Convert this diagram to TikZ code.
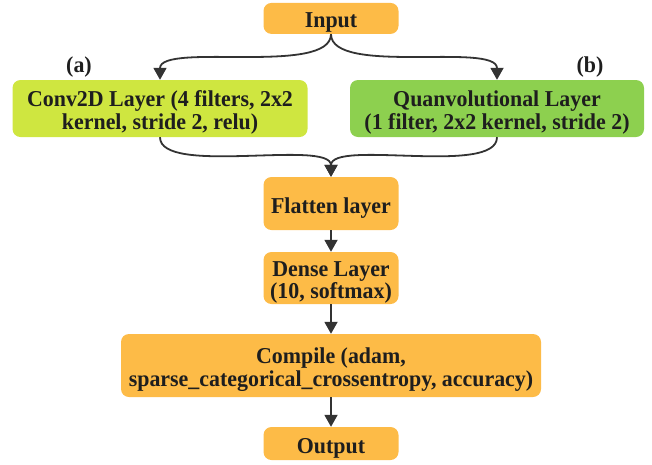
\documentclass[tikz,border=0pt]{standalone}
\usepackage{fontspec}
\setmainfont[FakeStretch=0.965]{Liberation Serif}
\usetikzlibrary{arrows.meta}
\definecolor{boxorange}{HTML}{FDBB47}
\definecolor{boxlime}{HTML}{CFE640}
\definecolor{boxgreen}{HTML}{8DD04F}
\definecolor{txt}{HTML}{1E1E1E}
\definecolor{arr}{HTML}{333333}
\newcommand{\bxt}[1]{\raisebox{-5pt}[\height][\depth]{\begin{tabular}{@{}c@{}}#1\end{tabular}}}
\tikzset{
  blk/.style={rounded corners=8pt, inner sep=0pt, text=txt,
    font=\fontsize{22.7}{22.5}\selectfont\bfseries},
  lbl/.style={text=txt, font=\fontsize{22.7}{22.5}\selectfont\bfseries},
  conn/.style={draw=arr, line width=1.8pt, -{Triangle[length=12pt,width=13pt]}}
}
\begin{document}
\begin{tikzpicture}[x=1pt,y=-1pt]
\useasboundingbox (0,0) rectangle (652,464);
\node[blk, fill=boxorange, minimum width=135pt, minimum height=31pt] (in) at (331,18.4) {\bxt{Input}};
\node[blk, fill=boxlime, minimum width=295pt, minimum height=57pt] (conv) at (160,108.5) {\bxt{Conv2D Layer (4 filters, 2x2\\kernel, stride 2, relu)}};
\node[blk, fill=boxgreen, minimum width=294pt, minimum height=57pt] (quan) at (497,108.5) {\bxt{Quanvolutional Layer\\(1 filter, 2x2 kernel, stride 2)}};
\node[blk, fill=boxorange, minimum width=135pt, minimum height=53pt] (flat) at (331,203.5) {\bxt{Flatten layer}};
\node[blk, fill=boxorange, minimum width=135pt, minimum height=52pt] (dense) at (331,278) {\bxt{Dense Layer\\(10, softmax)}};
\node[blk, fill=boxorange, minimum width=420pt, minimum height=63pt] (comp) at (331,365.5) {\bxt{Compile (adam,\\sparse\_categorical\_crossentropy, accuracy)}};
\node[blk, fill=boxorange, minimum width=135pt, minimum height=33pt] (out) at (331,443.5) {\bxt{Output}};
\node[lbl] (la) at (79,67) {(a)};
\node[lbl] (lb) at (590,67) {(b)};
\draw[conn] (in.south) .. controls +(0,42) and +(0,-38) .. (conv.north);
\draw[conn] (in.south) .. controls +(0,42) and +(0,-38) .. (quan.north);
\draw[conn] (conv.south) .. controls +(0,39) and +(0,-38) .. (flat.north);
\draw[conn] (quan.south) .. controls +(0,39) and +(0,-38) .. (flat.north);
\draw[conn] (flat.south) -- (dense.north);
\draw[conn] (dense.south) -- (comp.north);
\draw[conn] (comp.south) -- (out.north);
\end{tikzpicture}
\end{document}
